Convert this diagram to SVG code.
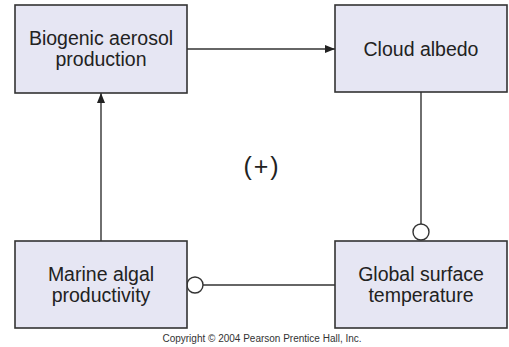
<svg xmlns="http://www.w3.org/2000/svg" width="509" height="347" viewBox="0 0 509 347">
  <defs>
    <marker id="arrow" viewBox="0 0 10 10" refX="10" refY="5" markerWidth="10" markerHeight="10" markerUnits="userSpaceOnUse" orient="auto">
      <path d="M0,1 L10,5 L0,9 Z" fill="#222"/>
    </marker>
  </defs>
  <style>
    .box { fill: #e6e6f3; stroke: #333; stroke-width: 1.6; }
    .label { font-family: "Liberation Sans", Arial, sans-serif; font-size: 19.5px; fill: #222; text-anchor: middle; }
    .sign { font-family: "Liberation Sans", Arial, sans-serif; font-size: 25px; fill: #222; text-anchor: middle; letter-spacing: 2px; }
    .link { stroke: #333; stroke-width: 1.4; fill: none; }
    .neg { fill: #fff; stroke: #333; stroke-width: 1.4; }
    .note { font-family: "Liberation Sans", Arial, sans-serif; font-size: 10px; fill: #333; text-anchor: middle; }
  </style>
  <rect width="509" height="347" fill="#fff"/>

  <g id="connectors">
    <line class="link" x1="187" y1="49" x2="335" y2="49" marker-end="url(#arrow)"/>
    <line class="link" x1="101" y1="241" x2="101" y2="93" marker-end="url(#arrow)"/>
    <line class="link" x1="421" y1="92" x2="421" y2="224"/>
    <circle class="neg" cx="421" cy="232" r="8"/>
    <line class="link" x1="335" y1="285" x2="203" y2="285"/>
    <circle class="neg" cx="195" cy="285" r="8"/>
  </g>

  <g id="biogenic-aerosol">
    <rect class="box" x="15" y="5" width="172" height="88"/>
    <text class="label" x="101" y="45">Biogenic aerosol</text>
    <text class="label" x="101" y="66">production</text>
  </g>

  <g id="cloud-albedo">
    <rect class="box" x="335" y="5" width="172" height="87"/>
    <text class="label" x="421" y="56">Cloud albedo</text>
  </g>

  <g id="marine-algal">
    <rect class="box" x="15" y="241" width="172" height="87"/>
    <text class="label" x="101" y="281">Marine algal</text>
    <text class="label" x="101" y="302">productivity</text>
  </g>

  <g id="global-temperature">
    <rect class="box" x="335" y="241" width="172" height="87"/>
    <text class="label" x="421" y="281">Global surface</text>
    <text class="label" x="421" y="302">temperature</text>
  </g>

  <text class="sign" x="262" y="175">(+)</text>
  <text class="note" x="262" y="342">Copyright © 2004 Pearson Prentice Hall, Inc.</text>
</svg>
